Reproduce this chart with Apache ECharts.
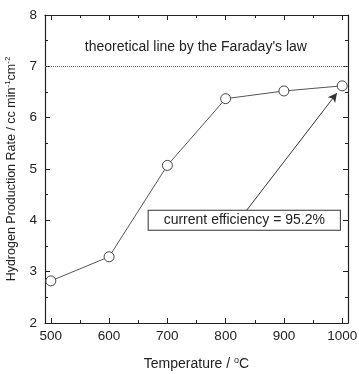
<!DOCTYPE html>
<html>
<head>
<meta charset="utf-8">
<script src="https://cdn.jsdelivr.net/npm/echarts@6/dist/echarts.min.js"></script>
<style>
  html, body { margin: 0; padding: 0; background: #fff; }
  #chart { width: 359px; height: 374px; }
</style>
</head>
<body>
<div id="chart"></div>
<script>
// measured values
const temperatures = [500, 600, 700, 800, 900, 1000];
const productionRate = [2.82, 3.29, 5.07, 6.37, 6.52, 6.62];
const theoreticalRate = 7;
const xTicks = [500, 600, 700, 800, 900, 1000];
const yTicks = [2, 3, 4, 5, 6, 7, 8];

const myChart = echarts.init(document.getElementById("chart"));
const font = "Liberation Sans, Arial, sans-serif";
const ink = "#222";

const axisCommon = {
  axisLine: { show: true, lineStyle: { color: ink, width: 1.2 } },
  axisTick: { show: true, inside: true, length: 5, lineStyle: { color: ink } },
  minorTick: { show: true, splitNumber: 2, length: 3, lineStyle: { color: ink } },
  splitLine: { show: false },
};

const option = {
  animation: false,
  grid: { left: 45, right: 11, top: 15, bottom: 51, outerBoundsMode: "none" },
  xAxis: [
    {
      type: "value",
      min: 490,
      max: 1010,
      ...axisCommon,
      axisLabel: {
        color: ink,
        fontSize: 13.5,
        fontFamily: font,
        margin: 6,
        customValues: xTicks,
        formatter: (v) => String(v),
      },
      axisTick: { ...axisCommon.axisTick, customValues: xTicks },
      name: "Temperature / {sup|o}C",
      nameLocation: "middle",
      nameGap: 33,
      nameTextStyle: {
        color: ink,
        fontSize: 14,
        fontFamily: font,
        rich: { sup: { fontSize: 9, verticalAlign: "top", padding: [0, 0, 8, 0], color: ink } },
      },
    },
    {
      type: "value",
      position: "top",
      min: 490,
      max: 1010,
      ...axisCommon,
      axisLabel: { show: false },
      axisTick: { ...axisCommon.axisTick, customValues: xTicks },
    },
  ],
  yAxis: [
    {
      type: "value",
      min: 2,
      max: 8,
      interval: 1,
      ...axisCommon,
      axisLabel: {
        color: ink,
        fontSize: 13.5,
        fontFamily: font,
        margin: 8,
        customValues: yTicks,
      },
      name: "Hydrogen Production Rate / cc min{sup|-1}cm{sup|-2}",
      nameLocation: "middle",
      nameGap: 25,
      nameTextStyle: {
        color: ink,
        fontSize: 12.5,
        fontFamily: font,
        rich: { sup: { fontSize: 8, verticalAlign: "top", padding: [0, 0, 8, 0], color: ink } },
      },
    },
    {
      type: "value",
      position: "right",
      min: 2,
      max: 8,
      interval: 1,
      ...axisCommon,
      axisLabel: { show: false },
    },
  ],
  series: [
    {
      type: "line",
      data: temperatures.map((t, i) => [t, productionRate[i]]),
      symbol: "circle",
      symbolSize: 10,
      itemStyle: { color: "#fff", borderColor: "#444", borderWidth: 1 },
      lineStyle: { color: "#555", width: 1 },
      markLine: {
        silent: true,
        symbol: "none",
        label: { show: false },
        lineStyle: { color: "#666", type: "dotted", width: 1 },
        data: [{ yAxis: theoreticalRate }],
      },
      z: 3,
    },
    {
      // arrow from efficiency box to the 1000 °C point
      type: "line",
      data: [],
      markLine: {
        silent: true,
        symbol: ["none", "arrow"],
        symbolSize: [7, 9],
        label: { show: false },
        lineStyle: { color: "#333", type: "solid", width: 1 },
        data: [[{ coord: [835, 4.18] }, { coord: [991, 6.48] }]],
      },
      markPoint: {
        silent: true,
        symbol: "rect",
        symbolSize: 0,
        data: [
          {
            coord: [749, 7.38],
            label: {
              show: true,
              formatter: "theoretical line by the Faraday's law",
              color: ink,
              fontSize: 14,
              fontFamily: font,
            },
          },
          {
            coord: [832, 4.0],
            label: {
              show: true,
              formatter: "current efficiency = 95.2%",
              color: ink,
              fontSize: 14,
              fontFamily: font,
              backgroundColor: "#fff",
              borderColor: "#333",
              borderWidth: 1,
              padding: [3, 15, 2, 15],
            },
          },
        ],
      },
    },
  ],
};
myChart.setOption(option, true);
</script>
</body>
</html>
